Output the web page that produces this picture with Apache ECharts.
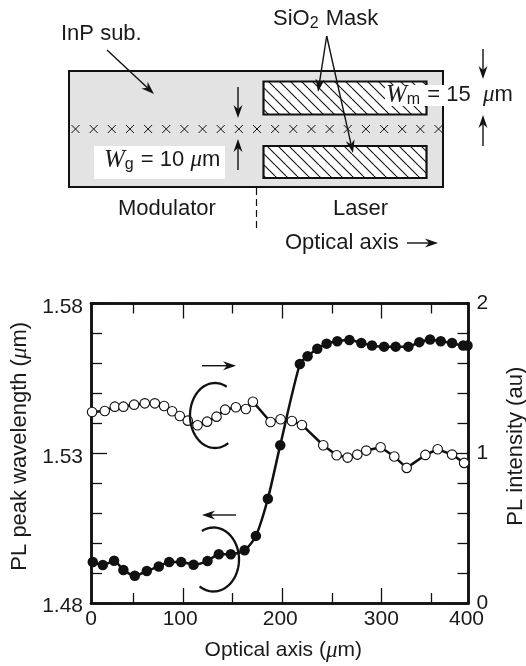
<!DOCTYPE html>
<html><head><meta charset="utf-8">
<style>html,body{margin:0;padding:0;background:#fff}#c{width:526px;height:666px}</style>
<script src="https://cdn.jsdelivr.net/npm/echarts@6/dist/echarts.min.js"></script>
</head><body><div id="c"></div>
<script>
// Values are calibrated on the printed tick marks (100, 200, 300 um); in the source figure the frame runs
// from about 7 to 388 on that scale, and the tick labels sit slightly off their ticks, "0" and "400" near the frame ends.
const xFrame = [7, 388];
const xMajorTicks = [100, 200, 300];
const xMinorTicks = [50, 150, 250, 350];
const xLabelAt = [7, 97, 198, 300, 386];
const xLabels = ['0', '100', '200', '300', '400'];
const yLeftMajor = [1.48, 1.53, 1.58];
const yLeftMinor = [1.49, 1.50, 1.51, 1.52, 1.54, 1.55, 1.56, 1.57];
const yRightMajor = [0, 1, 2];
const yRightMinor = [0.2, 0.4, 0.6, 0.8, 1.2, 1.4, 1.6, 1.8];

const peakX = [8.8,18.9,30.3,39.7,51.2,63.3,75.4,85.9,98,110.5,124.6,136,148.1,162,173.4,185.5,198,217.8,225.6,235.4,244.8,255.6,267.8,279.8,290.6,302.8,314.5,327.3,338.4,349.2,360,371.4,382.6,387];
const peakWavelength = [1.4937,1.4927,1.4941,1.4910,1.4891,1.4907,1.4922,1.4937,1.4937,1.4928,1.4940,1.4963,1.4963,1.4976,1.5024,1.5148,1.5327,1.5598,1.5624,1.5649,1.5666,1.5674,1.5678,1.5668,1.5660,1.5656,1.5656,1.5656,1.5671,1.5680,1.5674,1.5668,1.5660,1.5660];
const intensityX = [8.1,20.9,31,39.7,50.5,61.3,71.4,80.8,88.9,96.6,104.7,114.5,124.2,133.7,142.4,153.2,163.3,170.4,188.2,198.3,209.8,219.9,241.4,254.9,266,275.8,284.8,299.3,313.1,325.6,344.5,356.9,371.4,383.6];
const intensity = [1.2756,1.2822,1.3111,1.3111,1.3244,1.3333,1.3333,1.3156,1.28,1.2489,1.2178,1.1867,1.2111,1.2444,1.2911,1.3067,1.2956,1.3444,1.2089,1.2267,1.2156,1.1889,1.0533,0.9867,0.9711,0.9911,1.0178,1.04,0.9778,0.9022,0.9889,1.0267,0.9911,0.9356];

const SANS = '"Liberation Sans", Arial, sans-serif';
const SERIF = '"Liberation Serif", serif';
const FS = 22;
const TICK_FS = 21;
const TXT = '#1a1a1a';
const zip = (a, b) => a.map((v, i) => [v, b[i]]);
const rich = {
  mu: {fontFamily: SERIF, fontStyle: 'italic', fontSize: FS + 1, fill: TXT, color: TXT},
  w: {fontFamily: SERIF, fontStyle: 'italic', fontSize: FS + 3, fill: TXT, color: TXT},
  sub: {fontFamily: SANS, fontSize: 16, fill: TXT, color: TXT, padding: [9, 1, 0, 0]},
  t: {fontFamily: SANS, fontSize: FS, fill: TXT, color: TXT},
  t21: {fontFamily: SANS, fontSize: TICK_FS, fill: TXT, color: TXT},
  low: {fontFamily: SANS, fontSize: TICK_FS, color: TXT, padding: [7, 0, 0, 0]}
};

function hatch() {
  const s = 11, c = document.createElement('canvas');
  c.width = c.height = s;
  const g = c.getContext('2d');
  g.fillStyle = '#fff'; g.fillRect(0, 0, s, s);
  g.strokeStyle = '#111'; g.lineWidth = 1.1;
  for (let k = -s; k <= s; k += s) { g.beginPath(); g.moveTo(k, 0); g.lineTo(k + s, s); g.stroke(); }
  return c;
}
const gfx = [];
const line = (x1, y1, x2, y2, w, extra) => gfx.push({type: 'line', shape: {x1, y1, x2, y2}, style: Object.assign({stroke: '#111', lineWidth: w || 1.3}, extra || {}), z: 20});
function arrow(x1, y1, x2, y2) {
  const a = Math.atan2(y2 - y1, x2 - x1), L = 13, W = 4.5, N = 9;
  const cx = Math.cos(a), sy = Math.sin(a);
  line(x1, y1, x2 - cx * N, y2 - sy * N, 1.4);
  gfx.push({type: 'polygon', z: 21, shape: {points: [[x2, y2],
    [x2 - cx * L - sy * W, y2 - sy * L + cx * W], [x2 - cx * N, y2 - sy * N],
    [x2 - cx * L + sy * W, y2 - sy * L - cx * W]]}, style: {fill: '#111'}});
}
function ellArc(cx, cy, rx, ry, a0, a1) {
  const pts = [];
  for (let a = a0; a <= a1; a += 4) pts.push([cx + rx * Math.cos(a * Math.PI / 180), cy + ry * Math.sin(a * Math.PI / 180)]);
  gfx.push({type: 'polyline', z: 22, shape: {points: pts}, style: {stroke: '#111', lineWidth: 2.3, fill: null}});
}
const rect = (x, y, width, height, fill, stroke, w) => gfx.push({type: 'rect', z: 10, shape: {x, y, width, height}, style: {fill, stroke: stroke || null, lineWidth: w || 0}});
const text = (x, y, t, extra) => gfx.push({type: 'text', z: 25, x, y, style: Object.assign({text: t, font: FS + 'px ' + SANS, fill: TXT, textVerticalAlign: 'middle', rich}, extra || {})});

// schematic
rect(69, 71, 374, 116, '#e3e3e3', '#111', 2);
const pat = {image: hatch(), repeat: 'repeat'};
rect(263.5, 81.5, 163, 33, pat, '#111', 2.2);
rect(263.5, 146, 163, 32, pat, '#111', 2.2);
rect(385, 85, 59, 21, '#fff');
rect(94, 146, 131, 33, '#fff');
for (let i = 0; i < 21; i++) {
  const x = 75.5 + i * 18.15, r = 4;
  line(x - r, 129 - r, x + r, 129 + r, 1);
  line(x - r, 129 + r, x + r, 129 - r, 1);
}
line(256.5, 188, 256.5, 230, 1.2, {lineDash: [7, 4]});
arrow(107, 50, 154, 94);
arrow(326.7, 36, 318, 92);
arrow(326.7, 36, 353, 153);
arrow(483, 49, 483, 79);
arrow(483, 146, 483, 115);
arrow(238, 87, 238, 118);
arrow(238, 170, 238, 139);
arrow(407, 243, 438, 243);
text(61, 34, 'InP sub.');
text(273, 19, '{t|SiO}{sub|2}{t| Mask}');
text(118, 209, 'Modulator');
text(333, 209, 'Laser');
text(285, 243, 'Optical axis');
text(104, 160, '{w|W}{sub|g}{t| = 10 }{mu|\u03BC}{t|m}');
text(386, 95, '{w|W}{sub|m}{t| = 15  }{mu|\u03BC}{t|m}');
// chart annotations
ellArc(215, 415.5, 25, 32.5, 58, 298);
ellArc(213.5, 559.5, 25.5, 32, -117, 124);
arrow(202, 365.7, 236, 365.7);
arrow(236, 515, 202, 515);

const tick = (len, w) => ({show: true, inside: true, length: len, lineStyle: {color: '#111', width: w || 1.3}});
const axLine = {show: true, onZero: false, lineStyle: {color: '#111', width: 2.5}};
const hide = {show: false};
const xBase = {type: 'value', min: xFrame[0], max: xFrame[1], splitLine: hide, axisLine: axLine, axisLabel: hide};
const xAxis = [
  Object.assign({}, xBase, {position: 'bottom', axisTick: Object.assign(tick(15), {customValues: xMajorTicks}),
    name: '{t21|Optical axis (}{mu|\u03BC}{t21|m)}', nameLocation: 'middle', nameGap: 36, nameTextStyle: {rich, padding: [0, 0, 0, 7]},
    axisLabel: {show: true, customValues: xLabelAt, margin: 6, fontFamily: SANS, fontSize: TICK_FS, color: TXT,
      formatter: v => xLabels[xLabelAt.indexOf(v)]}}),
  Object.assign({}, xBase, {position: 'bottom', axisTick: Object.assign(tick(10), {customValues: xMinorTicks})}),
  Object.assign({}, xBase, {position: 'top', axisTick: Object.assign(tick(15), {customValues: xMajorTicks})}),
  Object.assign({}, xBase, {position: 'top', axisTick: Object.assign(tick(10), {customValues: xMinorTicks})})
];
const yL = {type: 'value', min: 1.48, max: 1.58, position: 'left', splitLine: hide, axisLine: axLine, axisLabel: hide};
const yR = {type: 'value', min: 0, max: 2, position: 'right', splitLine: hide, axisLine: axLine, axisLabel: hide};
const yAxis = [
  Object.assign({}, yL, {axisTick: Object.assign(tick(16), {customValues: yLeftMajor}),
    axisLabel: {show: true, customValues: yLeftMajor, margin: 8, rich, formatter: v => '{low|' + v.toFixed(2) + '}'},
    name: '{t|PL peak wavelength (}{mu|\u03BC}{t|m)}', nameLocation: 'middle', nameGap: 54, nameRotate: 90, nameTextStyle: {rich, padding: [0, 0, 0, 14]}}),
  Object.assign({}, yL, {axisTick: Object.assign(tick(11), {customValues: yLeftMinor})}),
  Object.assign({}, yR, {axisTick: Object.assign(tick(16), {customValues: yRightMajor}),
    axisLabel: {show: true, customValues: yRightMajor, margin: 8, fontFamily: SANS, fontSize: TICK_FS, color: TXT},
    name: '{t|PL intensity (au)}', nameLocation: 'middle', nameGap: 36, nameRotate: 90, nameTextStyle: {rich, padding: [0, 0, 0, 14]}}),
  Object.assign({}, yR, {axisTick: Object.assign(tick(11), {customValues: yRightMinor})})
];

const chart = echarts.init(document.getElementById('c'), null, {renderer: 'canvas'});
chart.setOption({
  animation: false,
  backgroundColor: '#fff',
  grid: {left: 91, top: 303.5, width: 377.5, height: 299.5, containLabel: false, outerBoundsMode: 'none'},
  xAxis, yAxis,
  graphic: gfx,
  series: [
    {type: 'line', name: 'PL peak wavelength', xAxisIndex: 0, yAxisIndex: 0, data: zip(peakX, peakWavelength), smooth: 0.25,
      symbol: 'circle', symbolSize: 10.5, itemStyle: {color: '#111'}, lineStyle: {color: '#111', width: 2.5}, z: 3, clip: false},
    {type: 'line', name: 'PL intensity', xAxisIndex: 0, yAxisIndex: 2, data: zip(intensityX, intensity),
      symbol: 'circle', symbolSize: 9.5, showSymbol: true, itemStyle: {color: '#fff', borderColor: '#111', borderWidth: 1.1, opacity: 1},
      lineStyle: {color: '#111', width: 2.5}, z: 4, clip: false}
  ]
});
</script></body></html>
